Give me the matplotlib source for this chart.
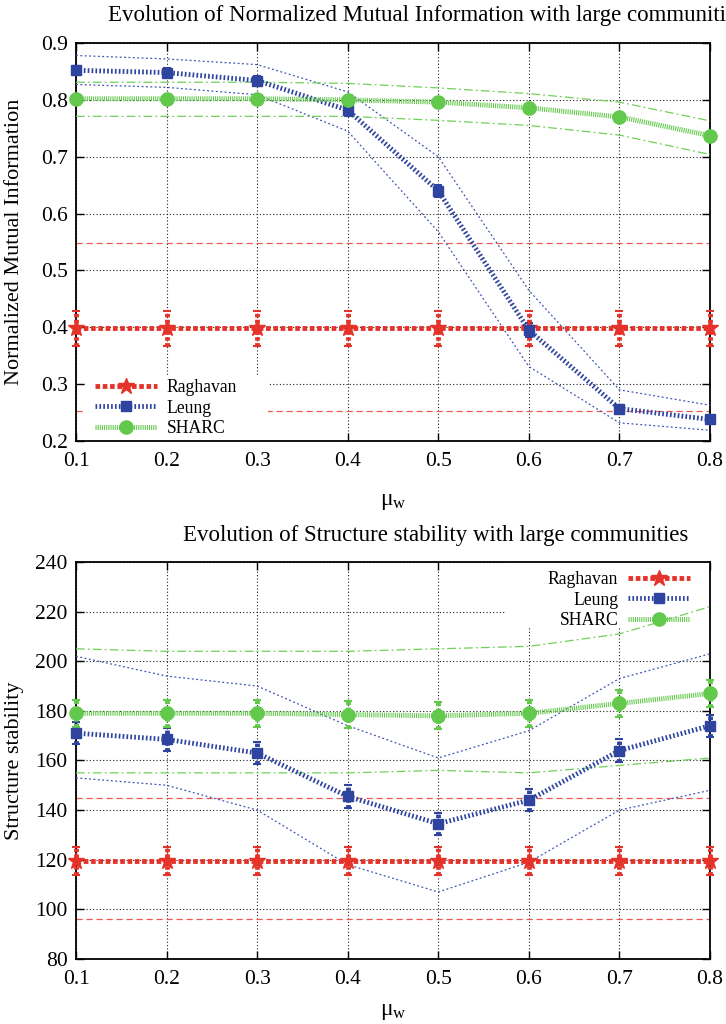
import numpy as np
import matplotlib.pyplot as plt
from matplotlib.patches import Rectangle
from matplotlib.lines import Line2D

plt.rcParams.update({"font.family": "Liberation Serif", "font.size": 15.5,
                     "mathtext.fontset": "custom", "mathtext.rm": "Liberation Serif",
                     "mathtext.it": "Liberation Serif:italic",
                     "axes.linewidth": 1.3, "xtick.direction": "in", "ytick.direction": "in",
                     "xtick.top": True, "ytick.right": True,
                     "xtick.major.size": 6, "ytick.major.size": 6,
                     "xtick.major.width": 1.0, "ytick.major.width": 1.0})

mu_w = [0.1, 0.2, 0.3, 0.4, 0.5, 0.6, 0.7, 0.8]

# normalized mutual information: mean, error, upper/lower envelope
nmi_raghavan = [0.398, 0.398, 0.398, 0.398, 0.398, 0.398, 0.398, 0.398]
nmi_raghavan_err = [0.03, 0.03, 0.03, 0.03, 0.03, 0.03, 0.03, 0.03]
nmi_raghavan_hi = [0.549, 0.549, 0.549, 0.549, 0.549, 0.549, 0.549, 0.549]
nmi_raghavan_lo = [0.252, 0.252, 0.252, 0.252, 0.252, 0.252, 0.252, 0.252]
nmi_leung = [0.852, 0.848, 0.834, 0.782, 0.640, 0.395, 0.257, 0.238]
nmi_leung_err = [0.008, 0.008, 0.008, 0.01, 0.01, 0.012, 0.006, 0.006]
nmi_leung_hi = [0.878, 0.872, 0.862, 0.814, 0.700, 0.465, 0.290, 0.263]
nmi_leung_lo = [0.827, 0.822, 0.809, 0.745, 0.568, 0.331, 0.232, 0.219]
nmi_sharc = [0.802, 0.802, 0.802, 0.800, 0.796, 0.786, 0.770, 0.737]
nmi_sharc_err = [0.004, 0.004, 0.004, 0.004, 0.004, 0.004, 0.004, 0.004]
nmi_sharc_hi = [0.831, 0.831, 0.831, 0.829, 0.821, 0.811, 0.796, 0.763]
nmi_sharc_lo = [0.771, 0.771, 0.771, 0.771, 0.764, 0.755, 0.738, 0.704]

# structure stability
ss_raghavan = [119.5, 119.5, 119.5, 119.5, 119.5, 119.5, 119.5, 119.5]
ss_raghavan_err = [5.5, 5.5, 5.5, 5.5, 5.5, 5.5, 5.5, 5.5]
ss_raghavan_hi = [145, 145, 145, 145, 145, 145, 145, 145]
ss_raghavan_lo = [96, 96, 96, 96, 96, 96, 96, 96]
ss_leung = [171, 168.5, 163, 145.5, 134.5, 144, 164, 174]
ss_leung_err = [4.5, 4.5, 4.5, 4.5, 4.5, 4.5, 4.5, 4.5]
ss_leung_hi = [202, 194, 190, 174, 161, 172, 193, 203]
ss_leung_lo = [153, 150, 140, 118, 107, 119, 140, 148]
ss_sharc = [179, 179, 179, 178.5, 178, 179, 183, 187]
ss_sharc_err = [5.5, 5.5, 5.5, 5.5, 5.5, 5.5, 5.5, 5.5]
ss_sharc_hi = [205, 204, 204, 204, 205, 206, 211, 222]
ss_sharc_lo = [155, 155, 155, 155, 156, 155, 158, 161]

names = ["Raghavan", "Leung", "SHARC"]
RED, BLUE, GREEN = "#e5332a", "#2e449e", "#62c94c"
styles = {
    "Raghavan": dict(color=RED, marker="*", ms=12, ls=(0, (0.95, 0.55)), env_ls=(0, (5, 3)), env_c="#ec5a52"),
    "Leung": dict(color=BLUE, marker="s", ms=7, ls=(0, (0.35, 0.45)), env_ls=(0, (1.5, 2)), env_c="#3d55b5"),
    "SHARC": dict(color=GREEN, marker="o", ms=9.5, ls=(0, (0.22, 0.22)), env_ls=(0, (7, 2.5, 1.5, 2.5)), env_c="#6fd05a"),
}
LW = 3.5


def draw(ax, series, box):
    ax.grid(True, color="#222222", ls=(0, (1, 2)), lw=0.8, zorder=0)
    ax.set_axisbelow(True)
    for name, (m, e, hi, lo) in zip(names, series):
        st = styles[name]
        z = 1 if name == "Raghavan" else 3
        ax.plot(mu_w, hi, color=st["env_c"], ls=st["env_ls"], lw=0.9, zorder=z)
        ax.plot(mu_w, lo, color=st["env_c"], ls=st["env_ls"], lw=0.9, zorder=z)
    # opaque key area hides the grid beneath it
    ax.add_patch(Rectangle(box[:2], box[2], box[3], transform=ax.transAxes, facecolor="white",
                           edgecolor="none", zorder=2))
    for name, (m, e, hi, lo) in zip(names, series):
        st = styles[name]
        _, caps, bars = ax.errorbar(mu_w, m, yerr=e, fmt="none", ecolor=st["color"], elinewidth=LW,
                                    capsize=3, capthick=1.5, zorder=4, clip_on=False)
        bars[0].set_linestyle((0, (0.7, 0.5)))
        ax.plot(mu_w, m, color=st["color"], ls=st["ls"], lw=LW, dash_capstyle="butt",
                marker=st["marker"], ms=st["ms"], mec=st["color"], zorder=5, clip_on=False)
    ax.set_xlim(0.1, 0.8)
    ax.set_xticks(mu_w)
    ax.tick_params(axis="x", pad=8)
    ax.tick_params(axis="y", pad=6)
    ax.set_xlabel(r"$\mathrm{\mu_w}$", fontsize=17)
    ax.yaxis.set_label_coords(-0.082, 0.5)


def handles():
    return [Line2D([], [], color=styles[n]["color"], ls=styles[n]["ls"], lw=LW, marker=styles[n]["marker"],
                   ms=styles[n]["ms"], dash_capstyle="butt") for n in names]


fig = plt.figure(figsize=(7.26, 10.24), dpi=100)
ax1 = fig.add_axes([0.1047, 0.5693, 0.8733, 0.3887])
ax2 = fig.add_axes([0.1047, 0.0635, 0.8733, 0.3877])

draw(ax1, [(nmi_raghavan, nmi_raghavan_err, nmi_raghavan_hi, nmi_raghavan_lo),
           (nmi_leung, nmi_leung_err, nmi_leung_hi, nmi_leung_lo),
           (nmi_sharc, nmi_sharc_err, nmi_sharc_hi, nmi_sharc_lo)],
     (0.016, 0.0, 0.287, 0.163))
ax1.set_ylim(0.2, 0.9)
ax1.set_yticks(np.arange(0.2, 0.91, 0.1))
ax1.set_yticklabels([f"{v:.1f}" for v in np.arange(0.2, 0.91, 0.1)])
ax1.set_xticklabels([f"{v:.1f}" for v in mu_w])
ax1.set_ylabel("Normalized Mutual Information", fontsize=16)
ax1.xaxis.set_label_coords(0.5, -0.125)
ax1.legend(handles(), names, loc="lower left", bbox_to_anchor=(0.03, 0.01), frameon=False,
           fontsize=12.7, handlelength=3.5, handletextpad=0.55, labelspacing=0.2, borderpad=0,
           borderaxespad=0, numpoints=1)

draw(ax2, [(ss_raghavan, ss_raghavan_err, ss_raghavan_hi, ss_raghavan_lo),
           (ss_leung, ss_leung_err, ss_leung_hi, ss_leung_lo),
           (ss_sharc, ss_sharc_err, ss_sharc_hi, ss_sharc_lo)],
     (0.678, 0.836, 0.322, 0.164))
ax2.set_ylim(80, 240)
ax2.set_yticks(np.arange(80, 241, 20))
ax2.set_xticklabels([f"{v:.1f}" for v in mu_w])
ax2.set_ylabel("Structure stability", fontsize=16)
ax2.xaxis.set_label_coords(0.5, -0.105)
ax2.legend(handles(), names, loc="upper right", bbox_to_anchor=(0.968, 0.977), frameon=False,
           fontsize=12.7, handlelength=3.5, handletextpad=0.55, labelspacing=0.2, borderpad=0,
           borderaxespad=0, numpoints=1, markerfirst=False)

fig.text(0.587, 0.985, "Evolution of Normalized Mutual Information with large communities",
         ha="center", va="center", fontsize=16.5)
fig.text(0.6, 0.4775, "Evolution of Structure stability with large communities",
         ha="center", va="center", fontsize=16.5)

fig.savefig("out.png", dpi=100)
